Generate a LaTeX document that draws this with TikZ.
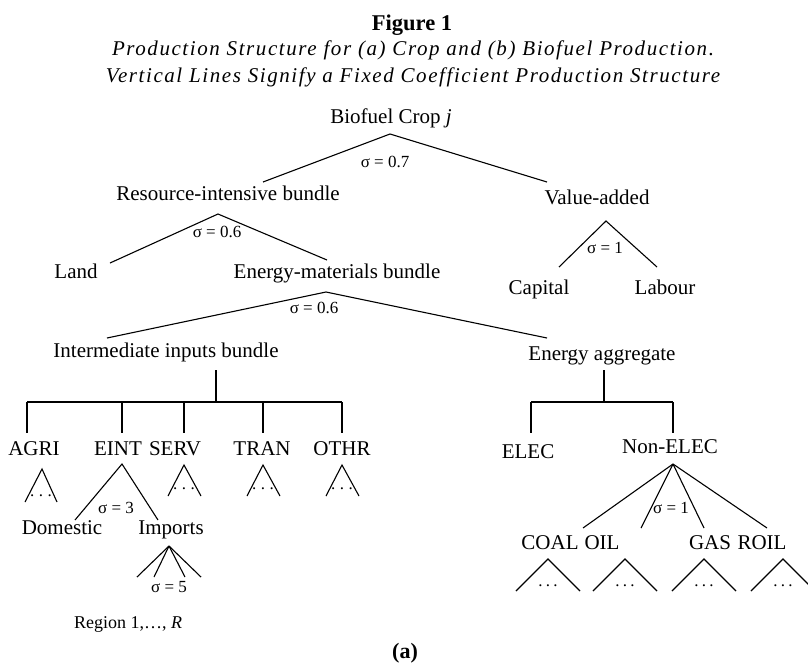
\documentclass[tikz,border=0pt]{standalone}
\usepackage{fontspec}
\setmainfont{Liberation Serif}
\newfontfamily\subfont[LetterSpace=7.5]{Liberation Serif}
\begin{document}
\begin{tikzpicture}[x=1pt,y=-1pt,
  lbl/.style={anchor=base,inner sep=0pt,font=\fontsize{21}{24}\selectfont},
  sig/.style={anchor=base,inner sep=0pt,font=\fontsize{17}{20}\selectfont},
  ttl/.style={anchor=base,inner sep=0pt,font=\fontsize{22.5}{26}\selectfont\bfseries},
  sub/.style={anchor=base,inner sep=0pt,font=\fontsize{21}{24}\selectfont\subfont\itshape},
  dotsA/.style={anchor=base,inner sep=0pt,font=\fontsize{17}{20}\selectfont},
  ln/.style={line width=1.1pt,line join=miter}]
\useasboundingbox (0,0) rectangle (808,665);
\fill[white] (0,0) rectangle (808,665);
% titles
\node[ttl] (fig) at (412,30) {Figure 1};
\node[sub] (s1) at (413,55) {Production Structure for (a) Crop and (b) Biofuel Production.};
\node[sub] (s2) at (413,82) {Vertical Lines Signify a Fixed Coefficient Production Structure};
% level 0
\node[lbl] (bio) at (391,123) {Biofuel Crop \textit{j}};
\coordinate (a1) at (390,134); \coordinate (a1l) at (263,182); \coordinate (a1r) at (547,182);
\draw[ln] (a1l) -- (a1) -- (a1r);
\node[sig] (sg1) at (385,167) {σ = 0.7};
% level 1
\node[lbl] (res) at (228,200) {Resource-intensive bundle};
\node[lbl] (va) at (597,204) {Value-added};
\coordinate (a2) at (218,214); \coordinate (a2l) at (110,263); \coordinate (a2r) at (327,260);
\draw[ln] (a2l) -- (a2) -- (a2r);
\node[sig] (sg2) at (217,237) {σ = 0.6};
\coordinate (a3) at (606,221); \coordinate (a3l) at (559,267); \coordinate (a3r) at (657,267);
\draw[ln] (a3l) -- (a3) -- (a3r);
\node[sig] (sg3) at (605,253) {σ = 1};
\node[lbl] (land) at (76,278) {Land};
\node[lbl] (emb) at (337,278) {Energy-materials bundle};
\node[lbl] (cap) at (539,294) {Capital};
\node[lbl] (lab) at (665,294) {Labour};
% level 2
\coordinate (a4) at (326,292); \coordinate (a4l) at (107,338); \coordinate (a4r) at (547,338);
\draw[ln] (a4l) -- (a4) -- (a4r);
\node[sig] (sg4) at (314,313) {σ = 0.6};
\node[lbl] (iib) at (166,357) {Intermediate inputs bundle};
\node[lbl] (ea) at (602,360) {Energy aggregate};
% fixed coefficient trees
\coordinate (v1t) at (216,370); \coordinate (v1b) at (216,402);
\draw[ln] (v1t) -- (v1b);
\coordinate (b1l) at (27,402); \coordinate (b1r) at (342,402);
\draw[ln] (b1l) -- (b1r);
\foreach \x/\n in {27/ag,122/ei,184/se,263/tr,342/ot}{
  \coordinate (\n t) at (\x,402); \coordinate (\n b) at (\x,433);
  \draw[ln] (\n t) -- (\n b);
}
\coordinate (v2t) at (604,370); \coordinate (v2b) at (604,402);
\draw[ln] (v2t) -- (v2b);
\coordinate (b2l) at (531,402); \coordinate (b2r) at (673,402);
\draw[ln] (b2l) -- (b2r);
\foreach \x/\n in {531/el,673/ne}{
  \coordinate (\n t) at (\x,402); \coordinate (\n b) at (\x,433);
  \draw[ln] (\n t) -- (\n b);
}
\node[lbl] (agri) at (34,455) {AGRI};
\node[lbl] (eint) at (118,455) {EINT};
\node[lbl] (serv) at (175,455) {SERV};
\node[lbl] (tran) at (262,455) {TRAN};
\node[lbl] (othr) at (342,455) {OTHR};
\node[lbl] (elec) at (528,458) {ELEC};
\node[lbl] (nelec) at (670,453) {Non-ELEC};
% small triangles under sectors
\coordinate (t1) at (42,469); \coordinate (t1l) at (25,502); \coordinate (t1r) at (57,502);
\draw[ln] (t1l) -- (t1) -- (t1r);
\node[dotsA] (d1) at (41,496) {.\kern4.6pt.\kern4.6pt.};
\foreach \x/\n in {184/t3,263/t4,342/t5}{
  \coordinate (\n) at (\x,465); \coordinate (\n l) at (\x-16,496); \coordinate (\n r) at (\x+17,496);
  \draw[ln] (\n l) -- (\n) -- (\n r);
  \node[dotsA] (\n d) at (\x,489) {.\kern4.6pt.\kern4.6pt.};
}
% EINT
\coordinate (a5) at (122,464); \coordinate (a5l) at (75,520); \coordinate (a5r) at (158,520);
\draw[ln] (a5l) -- (a5) -- (a5r);
\node[sig] (sg5) at (116,513) {σ = 3};
\node[lbl] (dom) at (62,534) {Domestic};
\node[lbl] (imp) at (171,534) {Imports};
\coordinate (a6) at (169,546);
\foreach \x/\n in {137/i1,154/i2,185/i3,201/i4}{
  \coordinate (\n) at (\x,577);
  \draw[ln] (a6) -- (\n);
}
\node[sig] (sg6) at (169,592) {σ = 5};
\node[sig,font=\fontsize{18}{21}\selectfont] (reg) at (128,628) {Region 1,…, \textit{R}};
% Non-ELEC
\coordinate (a7) at (673,464);
\foreach \x/\n in {583/f1,641/f2,704/f3,767/f4}{
  \coordinate (\n) at (\x,528);
  \draw[ln] (a7) -- (\n);
}
\node[sig] (sg7) at (671,513) {σ = 1};
\node[lbl] (coal) at (550,549) {COAL};
\node[lbl] (oil) at (602,549) {OIL};
\node[lbl] (gas) at (710,549) {GAS};
\node[lbl] (roil) at (762,549) {ROIL};
\foreach \x/\n in {548/g1,625/g2,704/g3,783/g4}{
  \coordinate (\n) at (\x,559); \coordinate (\n l) at (\x-32,591); \coordinate (\n r) at (\x+32,591);
  \draw[ln] (\n l) -- (\n) -- (\n r);
  \node[dotsA] (\n d) at (\x,586) {.\kern3.3pt.\kern3.3pt.};
}
\node[ttl,font=\fontsize{22}{26}\selectfont\bfseries] (lbla) at (405,658) {(a)};
\end{tikzpicture}
\end{document}
